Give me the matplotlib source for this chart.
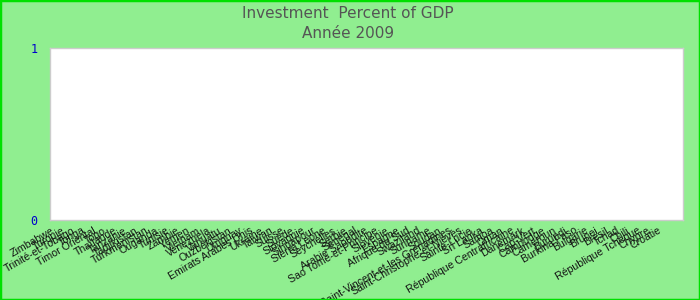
import matplotlib
matplotlib.use("Agg")
import matplotlib.pyplot as plt
from matplotlib.patches import Rectangle

countries = [
    "Zimbabwe", "Turquie", "Trinité-et-Tobago", "Tonga", "Timor Oriental", "Togo",
    "Thaïlande", "Tanzanie", "Tadjikistan", "Turkménistan", "Ouganda", "Tunisie",
    "Zambie", "Yémen", "Vietnam", "Venezuela", "Vanuatu", "Ouzbékistan", "Uruguay",
    "Emirats Arabes Unis", "Ukraine", "Taïwan", "Suisse", "Suède", "Slovaquie",
    "Singapour", "Sierra Leone", "Seychelles", "Serbie", "Sénégal", "Arabie Saoudite",
    "Sao Tomé-et-Principe", "Slovénie", "Espagne", "Afrique du Sud", "Swaziland",
    "Suriname", "Soudan", "Saint-Vincent-et-les Grenadines", "Saint-Christophe-et-Niévès",
    "Sainte-Lucie", "Sri Lanka", "Samoa", "Oman", "République Centrafricaine",
    "Danemark", "Cap-Vert", "Cambodge", "Cameroun", "Burundi", "Burkina Faso",
    "Bulgarie", "Brunei", "Brésil", "Tchad", "Chili", "République Tchèque",
    "Chypre", "Croatie",
]
values = [0, 0, 0, 0, 0, 0, 0, 0, 0, 0, 0, 0, 0, 0, 0, 0, 0, 0, 0, 0,
          0, 0, 0, 0, 0, 0, 0, 0, 0, 0, 0, 0, 0, 0, 0, 0, 0, 0, 0, 0,
          0, 0, 0, 0, 0, 0, 0, 0, 0, 0, 0, 0, 0, 0, 0, 0, 0, 0, 0]
y_ticks = [0, 1]
title_lines = ["Investment  Percent of GDP", "Année 2009"]

fig = plt.figure(figsize=(7, 3), dpi=100, facecolor="#90ee90")
fig.patches.append(Rectangle((0, 0), 1, 1, transform=fig.transFigure,
                             fill=False, edgecolor="#00e000", linewidth=2.5))

ax = fig.add_axes([50/700, 80/300, 633/700, 172/300])
ax.set_facecolor("white")
x = list(range(len(countries)))
ax.bar(x, values, color="#4472c4", width=0.6)

ax.set_xlim(-0.3, len(countries) - 1 + 2.18)
ax.set_ylim(0, 1)
ax.set_yticks(y_ticks)
ax.set_yticklabels([str(v) for v in y_ticks], family="DejaVu Sans Mono",
                   fontsize=8.5, color="#0000cc")
ax.tick_params(axis="y", length=0, pad=9)
ax.set_xticks(x)
ax.set_xticklabels(countries, rotation=30, ha="right", va="center",
                   rotation_mode="anchor", fontsize=7.6, family="Liberation Sans",
                   color="#111111")
ax.tick_params(axis="x", length=0, pad=7)
for s in ax.spines.values():
    s.set_color("#cccccc")
    s.set_linewidth(1)

fig.text(0.497, 1 - 13/300, title_lines[0], ha="center", va="center",
         fontsize=11, color="#555555",
         family=["Liberation Sans Narrow", "DejaVu Sans"])
fig.text(0.497, 1 - 33/300, title_lines[1], ha="center", va="center",
         fontsize=11, color="#555555",
         family=["Liberation Sans Narrow", "DejaVu Sans"])

fig.savefig("out.png", dpi=100, facecolor=fig.get_facecolor())
